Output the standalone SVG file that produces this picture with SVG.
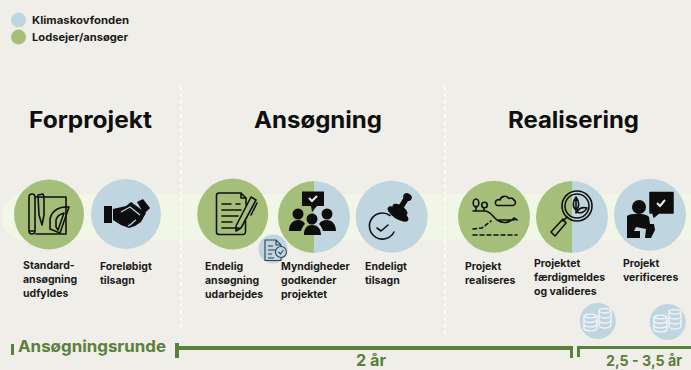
<svg xmlns="http://www.w3.org/2000/svg" width="691" height="370" viewBox="0 0 691 370">
<style>
text{font-family:"Inter","Liberation Sans",sans-serif;font-weight:700}
.l{font-size:10.5px;fill:#1a1a1a}
.h{font-size:23px;fill:#0f0f0f}
.g{fill:#a5bf7b}.b{fill:#bfd6e0}
.t{font-size:16px;fill:#5b7f3c}
.bar{fill:#5b7f3c}
.i{fill:none;stroke:#111;stroke-width:1.6;stroke-linejoin:round;stroke-linecap:round}
.f{fill:#0d0d0d}
.w{fill:none;stroke:#f0f4f4;stroke-width:1.4}
.d{stroke:#fbfaf6;stroke-width:2;stroke-dasharray:2 5;stroke-linecap:round;fill:none}
</style>
<rect width="691" height="370" fill="#f0eee8"/>
<rect id="band" x="2" y="194" width="720" height="46.5" rx="22" fill="#f2f6e6"/>
<g id="connectors">
<path class="d" d="M181 87V331M445 87V335"/>
<rect class="bar" x="175" y="346" width="395" height="4"/>
<rect class="bar" x="175" y="343" width="4" height="15"/>
<rect class="bar" x="570" y="346" width="3" height="12"/>
<rect class="bar" x="577" y="346" width="114" height="3"/>
<rect class="bar" x="577" y="346" width="3" height="11"/>
<rect class="bar" x="11" y="344" width="3" height="11"/>
</g>
<g id="legend">
<circle class="b" cx="18.500" cy="20" r="7.500"/><text class="l" x="32" y="24" textLength="97" lengthAdjust="spacingAndGlyphs">Klimaskovfonden</text>
<circle class="g" cx="18.500" cy="37" r="7.500"/><text class="l" x="32" y="41" textLength="96" lengthAdjust="spacingAndGlyphs">Lodsejer/ansøger</text>
</g>
<g id="headings">
<text class="h" x="29" y="128" textLength="123" lengthAdjust="spacingAndGlyphs">Forprojekt</text>
<text class="h" x="254" y="128" textLength="128" lengthAdjust="spacingAndGlyphs">Ansøgning</text>
<text class="h" x="508" y="128" textLength="131" lengthAdjust="spacingAndGlyphs">Realisering</text>
</g>
<g id="node1">
<circle class="g" cx="49" cy="214.500" r="35"/>
<path class="i" d="M35 197H66V234H36M29 197a3 3 0 0 1 6 0V231H29ZM29 231a3 3 0 1 0 6 0M38 195l5-1 1 3 0 18-2 10-3-10Z"/>
<path class="i" d="M50 229V219C52 210 60 206 69 207L60 233ZM56 227V220C57 216 60 214 64 213L58 230Z"/>
<text class="l"><tspan x="23" y="269">Standard-</tspan><tspan x="23" y="283">ansøgning</tspan><tspan x="23" y="297">udfyldes</tspan></text>
</g>
<g id="node2">
<circle class="b" cx="126" cy="214" r="35"/>
<path class="f" d="M104 206H112V223H104ZM113 209L126 206 131 202 146 213 141 222 135 226 129 228 121 225 113 220Z"/>
<path class="f" d="M137 202L143 199 150 208 144 214Z"/>
<path d="M121 212L130 207 140 215M128 226l5-3M132 223l4-3" fill="none" stroke="#bfd6e0" stroke-width="1.300"/>
<text class="l"><tspan x="100" y="270">Foreløbigt</tspan><tspan x="100" y="284">tilsagn</tspan></text>
</g>
<g id="node3">
<circle class="g" cx="232.700" cy="214" r="35.500"/>
<path class="i" d="M241 193H219a2.500 2.500 0 0 0-2.500 2.500V232a2.500 2.500 0 0 0 2.500 2.500H243a2.500 2.500 0 0 0 2.500-2.500V221M241 193L246 198V205M241 193V198H246"/>
<path class="i" d="M222 204H231M236 204H240M222 210H241M222 216H238M222 222H232M222 228H239"/>
<path class="i" d="M236 226L251 197 256 200 241 228 236 231ZM257 203L251 215"/>
<text class="l"><tspan x="205" y="270">Endelig</tspan><tspan x="205" y="284">ansøgning</tspan><tspan x="205" y="298">udarbejdes</tspan></text>
</g>
<g id="node4">
<path class="g" d="M314 181a36 36 0 0 0 0 72Z"/>
<path class="b" d="M314 181a36 36 0 0 1 0 72Z"/>
<path class="f" d="M302 191.500H324V206H317L312 212 311 206H302Z"/>
<path d="M309 198l3 3 5-5" fill="none" stroke="#f0eee8" stroke-width="2"/>
<circle class="f" cx="298" cy="214" r="5.500"/><circle class="f" cx="312" cy="219" r="5.500"/><circle class="f" cx="327" cy="214" r="5.500"/>
<path class="f" d="M289 231C289 224 293 220 298 220 302 220 304 222 305 224 303 226 302 228 301 231ZM304 235C304 228 307 225 312 225 317 225 321 228 321 235ZM323 231C322 228 321 226 319 224 321 221 323 220 327 220 332 220 336 224 336 231Z"/>
<text class="l"><tspan x="281" y="270">Myndigheder</tspan><tspan x="281" y="284">godkender</tspan><tspan x="281" y="298">projektet</tspan></text>
</g>
<g id="node5">
<circle class="b" cx="391.700" cy="216.700" r="36"/>
<ellipse class="f" cx="398" cy="214" rx="12" ry="5" transform="rotate(33 398 214)"/>
<ellipse class="f" cx="400" cy="209.500" rx="8.500" ry="4" transform="rotate(33 400 209.500)"/>
<path d="M401 207L406 199" stroke="#0d0d0d" stroke-width="5.500" fill="none"/>
<ellipse class="f" cx="407.500" cy="197" rx="4.500" ry="3.500" transform="rotate(33 407.500 197)"/>
<path class="i" d="M390 215.500A13 13 0 1 0 394 232M377 228l4 3 7-6" stroke-width="1.300"/>
<text class="l"><tspan x="365" y="270">Endeligt</tspan><tspan x="365" y="284">tilsagn</tspan></text>
</g>
<g id="node6">
<circle class="g" cx="494" cy="216.700" r="36"/>
<path class="i" stroke-width="1.200" d="M473 211H485C490 211 492 216 497 220 503 224 510 223 514 218L517 220M497 220H514M476 211V206M484 211V208"/>
<ellipse class="i" stroke-width="1.200" cx="476" cy="203" rx="2.800" ry="4"/>
<circle class="i" stroke-width="1.200" cx="484.500" cy="205" r="2.800"/>
<path class="i" stroke-width="1.200" d="M497 205.500H513a3 3 0 0 0 1-5.500 4 4 0 0 0-5-1.500 5 5 0 0 0-9 1.500 3 3 0 0 0-3 5.500Z"/>
<path class="i" stroke-width="1.200" stroke-dasharray="3.500 3" d="M473 229L482 228 491 221"/>
<path class="i" stroke-width="1.200" stroke-dasharray="4 3" d="M473 235H517"/>
<text class="l"><tspan x="465" y="270">Projekt</tspan><tspan x="465" y="284">realiseres</tspan></text>
</g>
<g id="node7">
<path class="g" d="M572 181a36 36 0 0 0 0 72Z"/>
<path class="b" d="M572 181a36 36 0 0 1 0 72Z"/>
<circle class="i" cx="577" cy="206" r="15"/><circle class="i" cx="577" cy="206" r="12"/>
<path class="i" d="M567 217L563 221M563 219L551 232 555 236 566 223Z"/>
<path class="i" d="M576 213V199M576 210C572 207 573 201 576 197 579 201 580 207 576 210ZM577 212C579 208 583 207 587 208 585 212 581 214 577 212Z" stroke-width="1.200"/>
<text class="l"><tspan x="534" y="267">Projektet</tspan><tspan x="534" y="281">færdigmeldes</tspan><tspan x="534" y="295">og valideres</tspan></text>
</g>
<g id="node8">
<circle class="b" cx="650" cy="214.700" r="36"/>
<path class="f" d="M650 192.500H673V213H659L654 217 653 213H650Z" stroke="#0d0d0d" stroke-linejoin="round" stroke-width="1.500"/>
<path d="M657 203l3 3 5-6" fill="none" stroke="#f0eee8" stroke-width="2"/>
<circle class="f" cx="639" cy="207" r="7"/>
<path class="f" d="M627 216C631 213 646 213 649 217L650 224H654L655 230 651 238H645L646 229 636 227 634 231H640V238H627Z"/>
<text class="l"><tspan x="623" y="267">Projekt</tspan><tspan x="623" y="281">verificeres</tspan></text>
</g>
<g id="doc-badge">
<circle class="b" cx="273" cy="249" r="14.500"/>
<path fill="none" stroke="#2d4350" stroke-width="1.100" d="M276 240H265V260.500H281V245ZM276 240V245H281M268 246H273M268 250H276M268 254H272M268 258H274"/>
<circle cx="281" cy="252" r="5.500" fill="#bfd6e0" stroke="#2d4350" stroke-width="1.100"/>
<path fill="none" stroke="#2d4350" stroke-width="1.100" d="M278.500 252l2 2 3-4"/>
</g>
<g id="coins1">
<circle class="b" cx="597.700" cy="321" r="18"/>
<path class="w" d="M584 316a7 3 0 0 1 13 0v13a7 3 0 0 1-13 0ZM584 316a7 3 0 0 0 13 0M584 320.500a7 3 0 0 0 13 0M584 325a7 3 0 0 0 13 0M599 310a7 3 0 0 1 12 0v15a6 3 0 0 1-12 0ZM599 310a6 3 0 0 0 12 0M599 315a6 3 0 0 0 12 0M599 320a6 3 0 0 0 12 0"/>
</g>
<g id="coins2">
<circle class="b" cx="667.700" cy="322" r="18"/>
<path class="w" d="M654 317a7 3 0 0 1 13 0v13a7 3 0 0 1-13 0ZM654 317a7 3 0 0 0 13 0M654 321.500a7 3 0 0 0 13 0M654 326a7 3 0 0 0 13 0M669 311a7 3 0 0 1 12 0v15a6 3 0 0 1-12 0ZM669 311a6 3 0 0 0 12 0M669 316a6 3 0 0 0 12 0M669 321a6 3 0 0 0 12 0"/>
</g>
<g id="timeline-labels">
<text class="t" x="18" y="352" textLength="148" lengthAdjust="spacingAndGlyphs">Ansøgningsrunde</text>
<text class="t" x="356" y="366" textLength="30" lengthAdjust="spacingAndGlyphs">2 år</text>
<text class="t" style="font-size:15px" x="606" y="366" textLength="76" lengthAdjust="spacingAndGlyphs">2,5 - 3,5 år</text>
</g>
</svg>
